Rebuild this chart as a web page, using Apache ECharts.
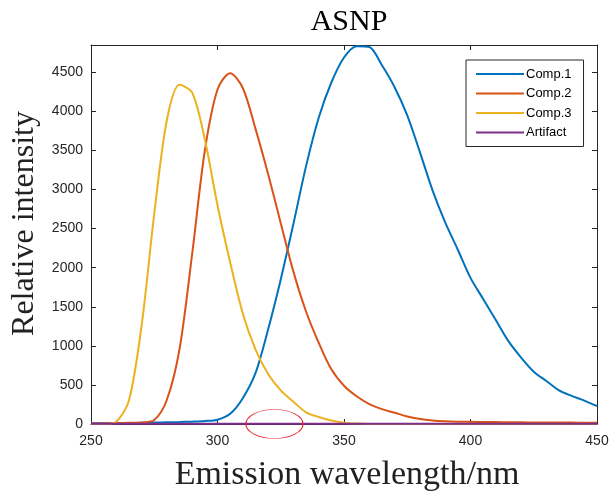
<!DOCTYPE html>
<html>
<head>
<meta charset="utf-8">
<script src="https://cdn.jsdelivr.net/npm/echarts@6/dist/echarts.min.js"></script>
<style>html,body{margin:0;padding:0;background:#fff}#c{width:610px;height:493px}</style>
</head>
<body>
<div id="c"></div>
<script>
var wavelength = [250,255,260,265,270,275,280,285,290,295,300,305,310,315,320,325,330,335,340,345,350,355,360,365,370,375,380,385,390,395,400,405,410,415,420,425,430,435,440,445,450];
var comp1 = [10,10,10,12,15,18,22,25,30,38,55,130,330,650,1210,1850,2560,3300,3920,4370,4690,4835,4825,4590,4310,3950,3480,2990,2580,2230,1870,1600,1330,1060,850,670,550,430,360,300,230];
var comp2 = [5,8,10,15,20,50,310,960,2180,3500,4280,4490,4300,3780,3200,2570,1950,1440,1040,700,490,355,255,190,145,97,65,45,35,30,28,26,24,22,21,20,19,18,18,17,17];
var comp3 = [0,0,30,300,1260,2690,3890,4340,4240,3640,2800,2070,1415,955,640,430,285,150,90,45,17,5,0,0,0,0,0,0,0,0,0,0,0,0,0,0,0,0,0,0,0];
var artifact = [3,3,3,3,3,3,3,3,3,3,3,3,3,3,3,3,3,3,3,3,3,3,3,3,3,3,3,3,3,3,3,3,3,3,3,3,3,3,3,3,3];
var seriesNames = ['Comp.1','Comp.2','Comp.3','Artifact'];
var xTicks = {min:250, max:450, interval:50};
var yTicks = {min:0, max:4850, interval:500};
var markCenter = [322.5, 0];

function pairs(v){ return wavelength.map(function(x,i){ return [x, v[i]]; }); }
var colors = ['#0072BD','#D95319','#EDB120','#7E2F8E'];
var allData = [comp1, comp2, comp3, artifact];
var axisColor = '#262626';
var tickFont = {color: axisColor, fontSize: 14, fontFamily: 'Liberation Sans, Arial, sans-serif', formatter: function(v){ return String(v); }};

var chart = echarts.init(document.getElementById('c'), null, {renderer:'canvas'});
var option = {
  animation: false,
  backgroundColor: '#fff',
  title: {
    text: 'ASNP', left: 344, top: 2, textAlign: 'center',
    textStyle: {fontFamily: 'Liberation Serif, serif', fontSize: 30, fontWeight: 'normal', color: '#000'}
  },
  grid: {left: 91, right: 13, top: 45, bottom: 69, containLabel: false, outerBoundsMode: 'none'},
  legend: {
    orient: 'vertical', left: 466, top: 60,
    width: 116,
    padding: [7, 12, 7, 10],
    itemGap: 5.5, itemWidth: 48, itemHeight: 2, icon: 'rect',
    borderColor: axisColor, borderWidth: 1, backgroundColor: '#fff', borderRadius: 0,
    textStyle: {fontSize: 13, color: '#000', fontFamily: 'Liberation Sans, Arial, sans-serif', padding: [0,0,0,-3], lineHeight: 14},
    data: seriesNames
  },
  xAxis: [{
    type: 'value', min: xTicks.min, max: xTicks.max, interval: xTicks.interval,
    name: 'Emission wavelength/nm', nameLocation: 'middle', nameGap: 34,
    nameTextStyle: {fontFamily: 'Liberation Serif, serif', fontSize: 34, color: '#222', padding: [0,0,0,6]},
    axisLine: {show: true, lineStyle: {color: axisColor, width: 1}},
    axisTick: {show: true, inside: true, length: 5, lineStyle: {color: axisColor}},
    axisLabel: Object.assign({margin: 10}, tickFont),
    splitLine: {show: false}
  },{
    type: 'value', position: 'top', min: xTicks.min, max: xTicks.max, interval: xTicks.interval,
    axisLine: {show: true, onZero: false, lineStyle: {color: axisColor, width: 1}},
    axisTick: {show: true, inside: true, length: 5, lineStyle: {color: axisColor}},
    axisLabel: {show: false}, splitLine: {show: false}
  }],
  yAxis: [{
    type: 'value', min: yTicks.min, max: yTicks.max, interval: yTicks.interval,
    name: 'Relative intensity', nameLocation: 'middle', nameGap: 48,
    nameTextStyle: {fontFamily: 'Liberation Serif, serif', fontSize: 32, color: '#222', padding: [0,0,0,22]},
    axisLine: {show: true, lineStyle: {color: axisColor, width: 1}},
    axisTick: {show: true, inside: true, length: 5, lineStyle: {color: axisColor}},
    axisLabel: Object.assign({margin: 8, showMaxLabel: false}, tickFont),
    splitLine: {show: false}
  },{
    type: 'value', position: 'right', min: yTicks.min, max: yTicks.max, interval: yTicks.interval,
    axisLine: {show: true, onZero: false, lineStyle: {color: axisColor, width: 1}},
    axisTick: {show: true, inside: true, length: 5, lineStyle: {color: axisColor}},
    axisLabel: {show: false}, splitLine: {show: false}
  }],
  series: seriesNames.map(function(n, i){
    return {
      name: n, type: 'line', xAxisIndex: 0, yAxisIndex: 0,
      data: pairs(allData[i]), smooth: 0.3, showSymbol: false, symbol: 'none',
      lineStyle: {color: colors[i], width: 2}, itemStyle: {color: colors[i]},
      z: 2 + (i === 3 ? 1 : 0)
    };
  })
};
chart.setOption(option);
var c = chart.convertToPixel({xAxisIndex: 0, yAxisIndex: 0}, markCenter);
var edge = chart.convertToPixel({xAxisIndex: 0, yAxisIndex: 0}, [markCenter[0] + 11.3, 0]);
var rx = edge[0] - c[0];
chart.setOption({
  graphic: [{
    type: 'circle', x: c[0], y: c[1], scaleX: 1, scaleY: 14.5 / rx,
    shape: {cx: 0, cy: 0, r: rx}, silent: true, z: 100,
    style: {fill: 'none', stroke: '#E8242A', lineWidth: 1.2}
  }]
});
</script>
</body>
</html>
